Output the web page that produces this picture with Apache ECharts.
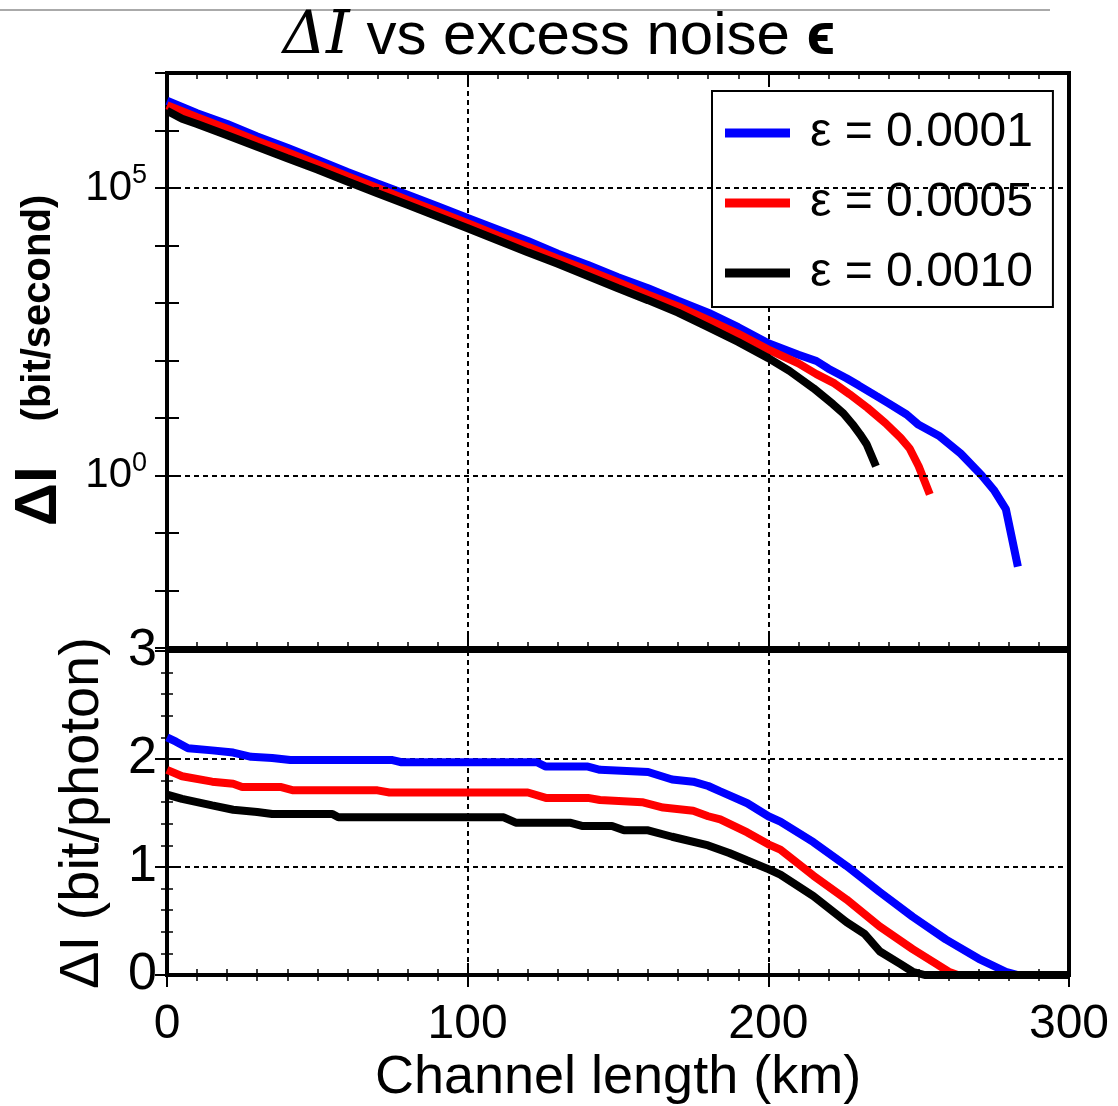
<!DOCTYPE html>
<html>
<head>
<meta charset="utf-8">
<title>ΔI vs excess noise</title>
<script src="https://cdn.jsdelivr.net/npm/echarts@6/dist/echarts.min.js"></script>
<style>
  html, body { margin: 0; padding: 0; background: #fff; }
  #chart { width: 1118px; height: 1106px; }
</style>
</head>
<body>
<div id="chart"></div>
<script>
// legend labels
const names = ['ε = 0.0001', 'ε = 0.0005', 'ε = 0.0010'];
const colors = ['#0000ff', '#ff0000', '#000000'];

// top panel: key rate (bit/second) vs channel length (km)
const kmTopBlue = [0, 10, 20, 30, 40, 50, 60, 70, 80, 90, 100, 110, 120, 130, 140, 150, 160, 170, 180, 190, 200, 210, 216, 220, 226, 230, 236, 240, 246, 250, 257, 264, 271, 275, 279, 283];
const rateBlue = [3.3e6, 2.0e6, 1.3e6, 7.9e5, 5.0e5, 3.1e5, 1.9e5, 1.2e5, 7.6e4, 4.8e4, 3.0e4, 1.9e4, 1.2e4, 7.2e3, 4.6e3, 2.8e3, 1.8e3, 1.1e3, 680, 380, 200, 126, 98, 72, 49, 37, 24, 18, 11.5, 7.6, 4.8, 2.4, 1.0, 0.56, 0.26, 0.026];

const kmTopRed = [0, 10, 20, 30, 40, 50, 60, 70, 80, 90, 100, 110, 120, 130, 140, 150, 160, 170, 180, 190, 200, 210, 216, 222, 227, 233, 239, 244, 247, 250, 253.7];
const rateRed = [2.75e6, 1.7e6, 1.07e6, 6.6e5, 4.2e5, 2.6e5, 1.6e5, 1.0e5, 6.2e4, 3.9e4, 2.45e4, 1.5e4, 9.5e3, 5.9e3, 3.7e3, 2.3e3, 1.4e3, 870, 510, 290, 155, 89, 58, 40, 26, 15, 8.1, 4.5, 2.95, 1.45, 0.47];

const kmTopBlack = [0, 5, 10, 20, 30, 40, 50, 60, 70, 80, 90, 100, 110, 120, 130, 140, 150, 160, 170, 180, 190, 200, 207, 215, 221.5, 225, 228, 230.5, 232.7, 235.8];
const rateBlack = [2.2e6, 1.6e6, 1.3e6, 8.3e5, 5.2e5, 3.3e5, 2.1e5, 1.3e5, 8.1e4, 5.1e4, 3.2e4, 2.0e4, 1.23e4, 7.6e3, 4.8e3, 2.95e3, 1.8e3, 1.12e3, 680, 380, 210, 110, 66, 33, 17.4, 12, 7.8, 5.2, 3.5, 1.45];

// bottom panel: bit/photon vs channel length (km)
const kmBotBlue = [0, 3, 7, 15, 22, 28, 35, 41, 75, 78, 123, 126, 140, 144, 160, 168, 175, 180, 184, 193, 200, 204, 215, 226, 237, 248, 259, 270, 279, 283, 300];
const photonBlue = [2.20, 2.16, 2.10, 2.08, 2.06, 2.02, 2.01, 1.99, 1.99, 1.97, 1.97, 1.93, 1.93, 1.90, 1.88, 1.81, 1.79, 1.75, 1.70, 1.59, 1.47, 1.42, 1.23, 1.01, 0.77, 0.54, 0.33, 0.15, 0.03, 0, 0];

const kmBotRed = [0, 5, 15, 22, 25, 38, 42, 70, 74, 120, 126, 140, 144, 158, 165, 175, 180, 184, 193, 200, 204, 215, 226, 237, 248, 256, 260, 263, 300];
const photonRed = [1.90, 1.84, 1.79, 1.77, 1.74, 1.74, 1.71, 1.71, 1.69, 1.69, 1.64, 1.64, 1.62, 1.60, 1.55, 1.52, 1.47, 1.44, 1.32, 1.21, 1.16, 0.92, 0.70, 0.45, 0.24, 0.10, 0.03, 0, 0];

const kmBotBlack = [0, 5, 15, 22, 30, 35, 55, 57, 112, 116, 134, 138, 148, 152, 160, 168, 180, 187, 193, 200, 204, 215, 226, 232, 237, 244, 248, 252, 300];
const photonBlack = [1.67, 1.63, 1.57, 1.53, 1.51, 1.49, 1.49, 1.46, 1.46, 1.41, 1.41, 1.38, 1.38, 1.34, 1.34, 1.28, 1.20, 1.13, 1.06, 0.98, 0.93, 0.73, 0.49, 0.38, 0.22, 0.10, 0.03, 0, 0];

const topSets = [[kmTopBlue, rateBlue], [kmTopRed, rateRed], [kmTopBlack, rateBlack]];
const botSets = [[kmBotBlue, photonBlue], [kmBotRed, photonRed], [kmBotBlack, photonBlack]];

const zip = (xs, ys) => xs.map((x, i) => [x, ys[i]]);

const FONT = 'Liberation Sans, Arial, Helvetica, sans-serif';
const dotted = { color: '#000', width: 2, type: [5, 4] };

function xAxisFor(gridIndex, position, labels, split) {
  return {
    type: 'value', gridIndex, position, min: 0, max: 300, interval: 100,
    axisLine: { show: false },
    axisTick: { show: true, inside: true, length: 12, lineStyle: { color: '#000', width: 2 } },
    minorTick: { show: true, splitNumber: 10, length: 6, lineStyle: { color: '#000', width: 1.5 } },
    axisLabel: { show: labels, fontSize: 48, color: '#000', margin: 26 },
    splitLine: { show: split, lineStyle: dotted }
  };
}

const chart = echarts.init(document.getElementById('chart'));

const series = [];
// dotted grid lines of the log panel at 10^0 and 10^5
series.push({
  type: 'line', xAxisIndex: 0, yAxisIndex: 0, data: [], z: 1, silent: true,
  markLine: {
    silent: true, symbol: 'none', animation: false,
    label: { show: false },
    lineStyle: dotted,
    data: [{ yAxis: 1 }, { yAxis: 1e5 }]
  }
});
topSets.forEach((s, i) => {
  series.push({
    name: names[i], type: 'line', xAxisIndex: 0, yAxisIndex: 0,
    data: zip(s[0], s[1]), showSymbol: false, z: 3 + i,
    color: colors[i], lineStyle: { width: 8, color: colors[i] }
  });
});
botSets.forEach((s, i) => {
  series.push({
    name: names[i], type: 'line', xAxisIndex: 2, yAxisIndex: 2,
    data: zip(s[0], s[1]), showSymbol: false, z: 3 + i, clip: false,
    color: colors[i], lineStyle: { width: 8, color: colors[i] }
  });
});

chart.setOption({
  animation: false,
  backgroundColor: '#fff',
  textStyle: { fontFamily: FONT, color: '#000' },
  title: {
    text: '{i|ΔI} vs excess noise {b|ϵ}',
    left: 'center', top: 2,
    textStyle: {
      fontSize: 60, fontWeight: 'normal', color: '#000', fontFamily: FONT,
      rich: {
        i: { fontSize: 60, fontFamily: 'DejaVu Serif', fontStyle: 'italic', color: '#000' },
        b: { fontSize: 60, fontWeight: 'bold', color: '#000', fontFamily: FONT }
      }
    }
  },
  graphic: [{
    type: 'line', shape: { x1: 0, y1: 10, x2: 1050, y2: 10 },
    style: { stroke: '#aaaaaa', lineWidth: 2 }, silent: true
  }],
  legend: {
    data: names, orient: 'vertical', left: 712, top: 91,
    backgroundColor: '#fff', borderColor: '#000', borderWidth: 2, borderRadius: 0,
    padding: [18, 20, 10, 13], itemGap: 22, itemWidth: 65, itemHeight: 9,
    icon: 'rect',
    textStyle: { fontSize: 48, color: '#000', fontFamily: FONT, padding: [0, 0, 0, 15], lineHeight: 48 }
  },
  grid: [
    { left: 167, top: 73, width: 902, height: 575, show: true, borderColor: '#000', borderWidth: 4, backgroundColor: 'transparent' },
    { left: 167, top: 651, width: 902, height: 326, show: true, borderColor: '#000', borderWidth: 4, backgroundColor: 'transparent' }
  ],
  xAxis: [
    xAxisFor(0, 'bottom', false, true),
    xAxisFor(0, 'top', false, false),
    Object.assign(xAxisFor(1, 'bottom', true, true), {
      name: 'Channel length (km)', nameLocation: 'middle', nameGap: 76,
      nameTextStyle: { fontSize: 54, color: '#000', fontFamily: FONT }
    }),
    xAxisFor(1, 'top', false, false)
  ],
  yAxis: [
    {
      type: 'log', logBase: 10, gridIndex: 0, position: 'left', min: 1e-3, max: 1e7, interval: 1,
      axisLine: { show: false },
      axisTick: { show: true, inside: true, length: 12, lineStyle: { color: '#000', width: 2 } },
      splitLine: { show: false },
      axisLabel: {
        margin: 20, color: '#000',
        formatter: function (v) {
          const e = Math.round(Math.log10(v));
          return e % 5 === 0 ? '{base|10}{sup|' + e + '}' : '';
        },
        rich: {
          base: { fontSize: 42, color: '#000', fontFamily: FONT },
          sup: { fontSize: 27, color: '#000', fontFamily: FONT, padding: [0, 0, 24, 0] }
        }
      },
      name: '{a|ΔI}{b|(bit/second)}', nameLocation: 'middle', nameRotate: 90, nameGap: 98,
      nameTextStyle: {
        fontSize: 56, fontWeight: 'bold', color: '#000', fontFamily: FONT,
        rich: {
          a: { fontSize: 60, fontWeight: 'bold', color: '#000', fontFamily: FONT },
          b: { fontSize: 40, fontWeight: 'bold', color: '#000', fontFamily: FONT, padding: [0, 0, 0, 45] }
        }
      }
    },
    {
      type: 'log', logBase: 10, gridIndex: 0, position: 'right', min: 1e-3, max: 1e7, interval: 1,
      axisLine: { show: false },
      axisTick: { show: true, inside: true, length: 12, lineStyle: { color: '#000', width: 2 } },
      splitLine: { show: false }, axisLabel: { show: false }
    },
    {
      type: 'value', gridIndex: 1, position: 'left', min: 0, max: 3, interval: 1,
      axisLine: { show: false },
      axisTick: { show: true, inside: true, length: 12, lineStyle: { color: '#000', width: 2 } },
      minorTick: { show: true, splitNumber: 5, length: 6, lineStyle: { color: '#000', width: 1.5 } },
      splitLine: { show: true, lineStyle: dotted },
      axisLabel: { fontSize: 52, color: '#000', margin: 10 },
      name: 'ΔI (bit/photon)', nameLocation: 'middle', nameRotate: 90, nameGap: 56,
      nameTextStyle: { fontSize: 56, color: '#000', fontFamily: FONT }
    },
    {
      type: 'value', gridIndex: 1, position: 'right', min: 0, max: 3, interval: 1,
      axisLine: { show: false },
      axisTick: { show: true, inside: true, length: 12, lineStyle: { color: '#000', width: 2 } },
      minorTick: { show: true, splitNumber: 5, length: 6, lineStyle: { color: '#000', width: 1.5 } },
      splitLine: { show: false }, axisLabel: { show: false }
    }
  ],
  series: series
});
</script>
</body>
</html>
